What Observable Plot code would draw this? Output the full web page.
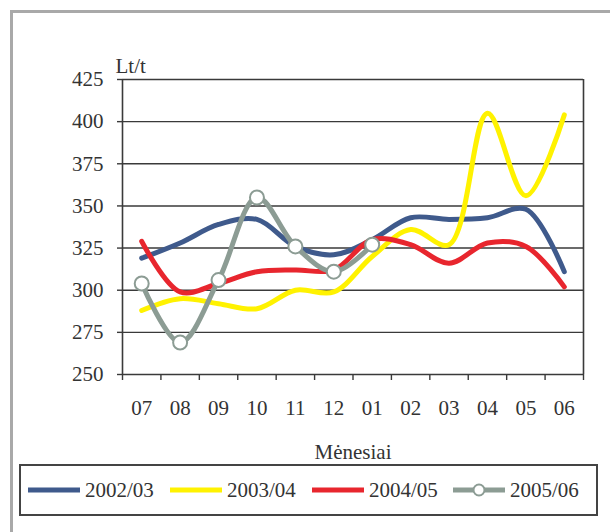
<!DOCTYPE html>
<html>
<head>
<meta charset="utf-8">
<script src="https://cdn.jsdelivr.net/npm/d3@7"></script>
<script src="https://cdn.jsdelivr.net/npm/@observablehq/plot@0.6"></script>
<style>
  html, body { margin: 0; padding: 0; background: #fff; width: 610px; height: 532px; overflow: hidden; }
  #frame { position: absolute; left: 10px; top: 10px; width: 700px; height: 700px; border: 3px solid #a9a9a9; box-sizing: border-box; }
  #chart { position: absolute; left: 0; top: 0; }
  #legend { position: absolute; left: 19px; top: 464px; width: 579px; height: 52px; border: 2px solid #444; box-sizing: border-box; background: #fff;
            font-family: "Liberation Serif", "Times New Roman", serif; font-size: 21px; color: #333; }
  .item { position: absolute; top: 0; height: 48px; display: flex; align-items: center; }
  .item span { margin-left: 5px; }
</style>
</head>
<body>
<div id="frame"></div>
<div id="chart"></div>
<div id="legend"></div>
<script>
const months = ["07","08","09","10","11","12","01","02","03","04","05","06"];
const seriesNames = ["2002/03","2003/04","2004/05","2005/06"];
const s2002 = [319, 328, 339, 342, 326, 321, 330, 343, 342, 343, 348, 311];
const s2003 = [288, 295, 292, 289, 300, 299, 320, 336, 327, 405, 356, 404];
const s2004 = [329, 299, 304, 311, 312, 312, 330, 327, 316, 328, 326, 302];
const s2005 = [304, 269, 306, 355, 326, 311, 327];
const yTicks = [250, 275, 300, 325, 350, 375, 400, 425];

const colors = ["#3f5a8c", "#fff200", "#e8262e", "#8c9c94"];
const allSeries = [s2002, s2003, s2004, s2005];
const rows = allSeries.map(s => s.map((v, i) => ({i, v})));

const font = "'Liberation Serif', 'Times New Roman', serif";
const ink = "#3a3a3a";

const lineMarks = rows.map((r, k) =>
  Plot.line(r, {x: "i", y: "v", stroke: colors[k], strokeWidth: 5, curve: "catmull-rom"})
);

const chart = Plot.plot({
  width: 610,
  height: 470,
  marginLeft: 122,
  marginRight: 27,
  marginTop: 79,
  marginBottom: 96,
  style: {fontFamily: font, fontSize: "21px", color: "#333", background: "transparent"},
  x: {domain: [-0.5, 11.5]},
  y: {domain: [250, 425]},
  marks: [
    Plot.gridY(yTicks, {stroke: ink, strokeOpacity: 1, strokeWidth: 1.4}),
    Plot.ruleX([-0.5, 11.5], {stroke: ink, strokeWidth: 1.6}),
    Plot.axisY({ticks: yTicks, tickSize: 5, tickPadding: 14, label: null, stroke: ink, strokeWidth: 1.4, fontSize: 21}),
    Plot.axisX({ticks: d3.range(-0.5, 12, 1), tickSize: 6, tickFormat: () => "", label: null, stroke: ink, strokeWidth: 1.4}),
    Plot.axisX({ticks: d3.range(12), tickSize: 0, tickPadding: 26, tickFormat: i => months[i], label: null, fontSize: 21}),
    ...lineMarks,
    Plot.dot(rows[3], {x: "i", y: "v", r: 7, fill: "#fff", stroke: colors[3], strokeWidth: 2}),
    Plot.text(["Lt/t"], {frameAnchor: "top-left", textAnchor: "start", lineAnchor: "bottom", dx: -7, dy: -7, fontSize: 21}),
    Plot.text(["Mėnesiai"], {frameAnchor: "bottom", lineAnchor: "middle", dy: 78, fontSize: 21})
  ]
});
document.getElementById("chart").appendChild(chart);

// legend
const legend = document.getElementById("legend");
const lefts = [7, 149, 291, 432];
seriesNames.forEach((name, k) => {
  const item = document.createElement("div");
  item.className = "item";
  item.style.left = lefts[k] + "px";
  const circle = k === 3 ? `<circle cx="26" cy="8" r="5.5" fill="#fff" stroke="${colors[k]}" stroke-width="2"/>` : "";
  item.innerHTML = `<svg width="52" height="16"><line x1="0" x2="52" y1="8" y2="8" stroke="${colors[k]}" stroke-width="5"/>${circle}</svg><span>${name}</span>`;
  legend.appendChild(item);
});
</script>
</body>
</html>
